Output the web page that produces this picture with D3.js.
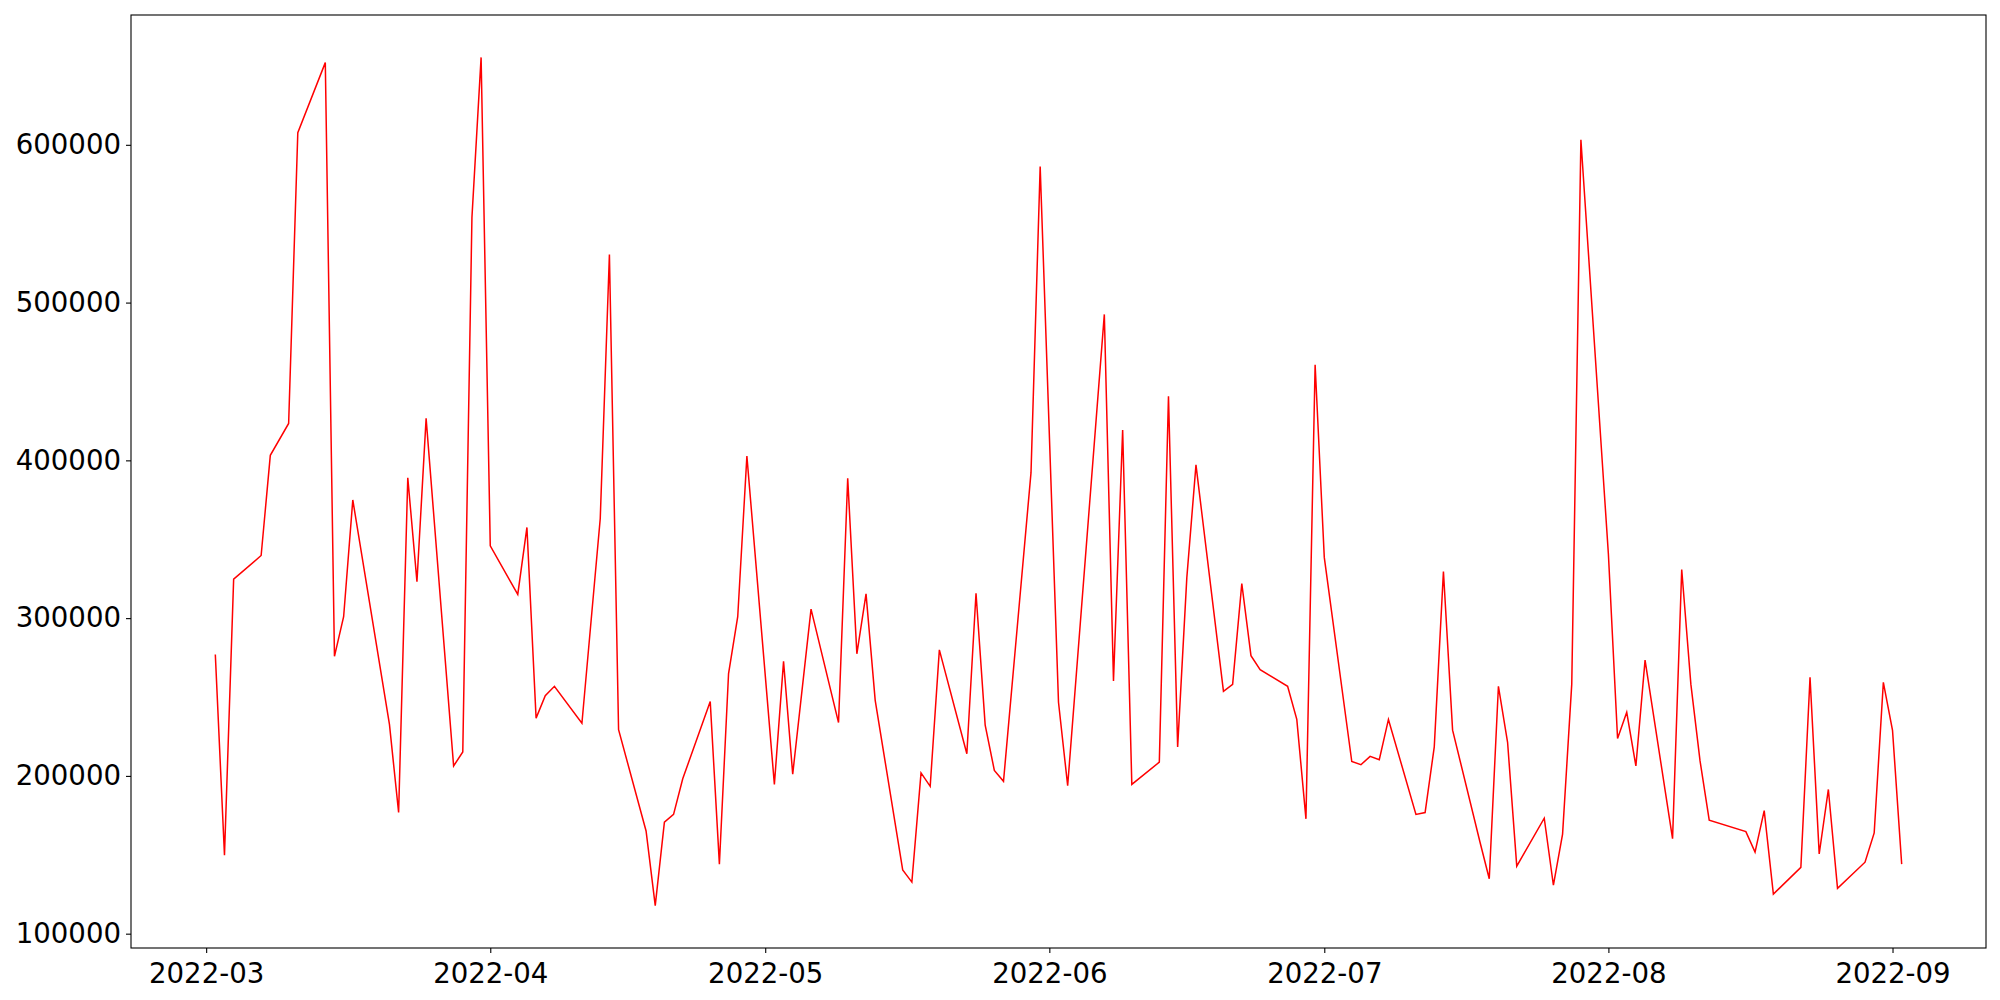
<!DOCTYPE html>
<html>
<head>
<meta charset="utf-8">
<script src="https://cdn.jsdelivr.net/npm/d3@7"></script>
<style>
  body { margin: 0; background: #fff; }
  svg { display: block; font-family: "DejaVu Sans", sans-serif; }
</style>
</head>
<body>
<svg id="chart" width="2000" height="1000"></svg>
<script>
// daily values, Mar - Sep 2022
const dates = [
  '2022-03-02','2022-03-03','2022-03-04','2022-03-07','2022-03-08','2022-03-10','2022-03-11',
  '2022-03-14','2022-03-15','2022-03-16','2022-03-17','2022-03-21','2022-03-22','2022-03-23',
  '2022-03-24','2022-03-25','2022-03-28','2022-03-29','2022-03-30','2022-03-31','2022-04-01',
  '2022-04-04','2022-04-05','2022-04-06','2022-04-07','2022-04-08','2022-04-11','2022-04-13',
  '2022-04-14','2022-04-15','2022-04-18','2022-04-19','2022-04-20','2022-04-21','2022-04-22',
  '2022-04-25','2022-04-26','2022-04-27','2022-04-28','2022-04-29','2022-05-02','2022-05-03',
  '2022-05-04','2022-05-06','2022-05-09','2022-05-10','2022-05-11','2022-05-12','2022-05-13',
  '2022-05-16','2022-05-17','2022-05-18','2022-05-19','2022-05-20','2022-05-23','2022-05-24',
  '2022-05-25','2022-05-26','2022-05-27','2022-05-30','2022-05-31','2022-06-02','2022-06-03',
  '2022-06-07','2022-06-08','2022-06-09','2022-06-10','2022-06-13','2022-06-14','2022-06-15',
  '2022-06-16','2022-06-17','2022-06-20','2022-06-21','2022-06-22','2022-06-23','2022-06-24',
  '2022-06-27','2022-06-28','2022-06-29','2022-06-30','2022-07-01','2022-07-04','2022-07-05',
  '2022-07-06','2022-07-07','2022-07-08','2022-07-11','2022-07-12','2022-07-13','2022-07-14',
  '2022-07-15','2022-07-18','2022-07-19','2022-07-20','2022-07-21','2022-07-22','2022-07-25',
  '2022-07-26','2022-07-27','2022-07-28','2022-07-29','2022-08-01','2022-08-02','2022-08-03',
  '2022-08-04','2022-08-05','2022-08-08','2022-08-09','2022-08-10','2022-08-11','2022-08-12',
  '2022-08-16','2022-08-17','2022-08-18','2022-08-19','2022-08-22','2022-08-23','2022-08-24',
  '2022-08-25','2022-08-26','2022-08-29','2022-08-30','2022-08-31','2022-09-01','2022-09-02'
];

const values = [
  277000,149700,324700,339700,403200,423400,607700,
  652100,275800,300900,374900,232600,176800,389000,
  323100,426600,206300,215200,553900,655400,345800,
  315000,357500,236600,250800,256800,233400,363100,
  530500,229300,165100,117800,170700,175600,198200,
  247100,144100,264900,300900,402700,194600,272600,
  201100,305700,233800,388600,277400,315400,247900,
  140400,132700,201900,193400,279900,214000,315800,
  232200,203500,196600,392200,586300,246700,193800,
  492500,260100,419300,194600,208700,440700,218400,
  325500,397100,253600,258000,321900,276200,267300,
  256800,235800,172800,460600,338500,209100,207100,
  212400,210300,235800,175600,176800,218400,329600,
  229000,157800,134800,256800,221300,142800,173200,
  130700,163100,258000,603200,340500,223700,240300,
  206300,273400,160200,330800,258000,209500,171900,
  164700,151700,178000,125100,142000,262500,150500,
  191400,128700,145300,163900,259300,228900,144100
];

const yTicks = [100000, 200000, 300000, 400000, 500000, 600000];
const xTicks = ['2022-03-01','2022-04-01','2022-05-01','2022-06-01','2022-07-01','2022-08-01','2022-09-01'];

const parse = d3.timeParse('%Y-%m-%d');
const data = dates.map((d, i) => ({ date: parse(d), value: values[i] }));

const margin = { top: 15, right: 14, bottom: 52, left: 131 };
const width = 2000 - margin.left - margin.right;
const height = 1000 - margin.top - margin.bottom;

const svg = d3.select('#chart');
const g = svg.append('g')
  .attr('transform', `translate(${margin.left},${margin.top})`);

// matplotlib-like 5% padding
const xExt = d3.extent(data, d => d.date);
const xPad = (xExt[1] - xExt[0]) * 0.05;
const xScale = d3.scaleTime()
  .domain([new Date(+xExt[0] - xPad), new Date(+xExt[1] + xPad)])
  .range([0, width]);

const yExt = d3.extent(data, d => d.value);
const yPad = (yExt[1] - yExt[0]) * 0.05;
const yScale = d3.scaleLinear()
  .domain([yExt[0] - yPad, yExt[1] + yPad])
  .range([height, 0]);

// axes
const xAxis = d3.axisBottom(xScale)
  .tickValues(xTicks.map(parse))
  .tickFormat(d3.timeFormat('%Y-%m'))
  .tickSize(5)
  .tickPadding(5);

const yAxis = d3.axisLeft(yScale)
  .tickValues(yTicks)
  .tickFormat(d3.format('d'))
  .tickSize(5)
  .tickPadding(5);

const gx = g.append('g')
  .attr('transform', `translate(0,${height})`)
  .call(xAxis);

const gy = g.append('g').call(yAxis);

[gx, gy].forEach(ax => {
  ax.select('.domain').remove();
  ax.selectAll('line').attr('stroke', '#000').attr('stroke-width', 1.1);
  ax.selectAll('text')
    .attr('fill', '#000')
    .style('font-size', '27.6px')
    .style('font-family', '"DejaVu Sans", sans-serif');
});
gx.selectAll('text').attr('dy', '0.9em');

// line
const line = d3.line()
  .x(d => xScale(d.date))
  .y(d => yScale(d.value));

g.append('path')
  .datum(data)
  .attr('fill', 'none')
  .attr('stroke', 'red')
  .attr('stroke-width', 1.5)
  .attr('stroke-linejoin', 'miter')
  .attr('d', line);

// frame
g.append('rect')
  .attr('x', 0)
  .attr('y', 0)
  .attr('width', width)
  .attr('height', height)
  .attr('fill', 'none')
  .attr('stroke', '#000')
  .attr('stroke-width', 1.1);
</script>
</body>
</html>
